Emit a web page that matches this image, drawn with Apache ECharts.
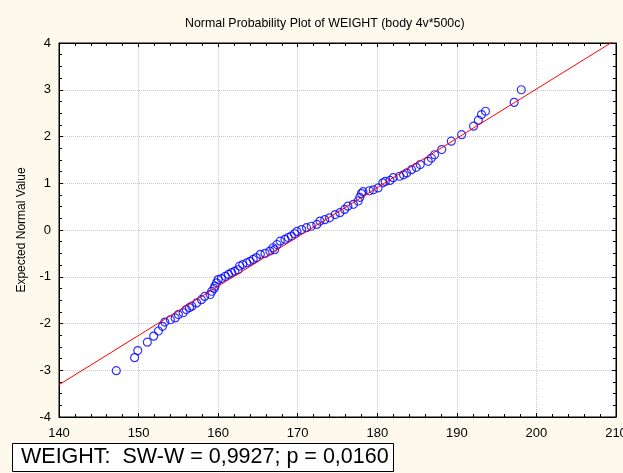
<!DOCTYPE html>
<html>
<head>
<meta charset="utf-8">
<script src="https://cdn.jsdelivr.net/npm/echarts@6/dist/echarts.min.js"></script>
<style>
  html, body { margin: 0; padding: 0; background: #fdf9ec; }
  #chart { width: 623px; height: 473px; }
</style>
</head>
<body>
<div id="chart"></div>
<script>
// Observed weights (sorted) and their expected normal values
const weights = [
  147.2, 149.5, 149.9, 151.1, 151.9, 152.5, 153.0, 153.3, 154.0, 154.6,
  155.0, 155.6, 156.0, 156.4, 156.7, 157.3, 157.9, 158.3, 159.0, 159.2,
  159.5, 159.6, 159.8, 160.0, 160.4, 160.9, 161.3, 161.7, 162.1, 162.5,
  162.7, 163.1, 163.6, 164.0, 164.4, 164.8, 165.3, 165.9, 166.5, 166.9,
  167.1, 167.4, 167.8, 168.4, 168.8, 169.2, 169.6, 169.9, 170.5, 171.1,
  171.7, 172.4, 172.8, 173.4, 174.0, 174.7, 175.3, 175.9, 176.3, 177.0,
  177.6, 177.8, 178.0, 178.2, 179.0, 179.5, 180.1, 180.7, 181.0, 181.6,
  182.0, 182.8, 183.3, 183.7, 184.3, 184.9, 185.4, 186.4, 186.8, 187.2,
  188.1, 189.3, 190.6, 192.1, 192.7, 193.1, 193.6, 197.2, 198.1
];
const expectedNormal = [
  -3.01, -2.73, -2.58, -2.40, -2.27, -2.16, -2.06, -1.97, -1.92, -1.88,
  -1.81, -1.77, -1.70, -1.66, -1.63, -1.56, -1.49, -1.42, -1.38, -1.31,
  -1.25, -1.20, -1.13, -1.06, -1.04, -0.99, -0.95, -0.91, -0.88, -0.85,
  -0.77, -0.74, -0.70, -0.67, -0.63, -0.59, -0.52, -0.50, -0.45, -0.38,
  -0.42, -0.31, -0.24, -0.20, -0.16, -0.13, -0.08, -0.03, 0.01, 0.05,
  0.08, 0.12, 0.19, 0.22, 0.26, 0.33, 0.37, 0.44, 0.51, 0.55,
  0.62, 0.70, 0.78, 0.82, 0.84, 0.86, 0.90, 1.01, 1.04, 1.06,
  1.12, 1.15, 1.18, 1.22, 1.29, 1.34, 1.40, 1.47, 1.54, 1.61,
  1.72, 1.90, 2.04, 2.22, 2.35, 2.47, 2.54, 2.73, 3.00
];

// Reference normal line (end points)
const fitX = [140, 210];
const fitY = [-3.31, 4.07];

// Axis ranges
const xMin = 140, xMax = 210, xStep = 10;
const yMin = -4, yMax = 4, yStep = 1;

const statText = 'WEIGHT:  SW-W = 0,9927; p = 0,0160';
const titleText = 'Normal Probability Plot of WEIGHT (body 4v*500c)';
const yName = 'Expected Normal Value';

const font = 'Liberation Sans, Arial, sans-serif';

const scatterData = weights.map((w, i) => [w, expectedNormal[i]]);
const lineData = fitX.map((x, i) => [x, fitY[i]]);

function valueAxis(extra) {
  return Object.assign({
    type: 'value',
    axisLine: { show: true, onZero: false, lineStyle: { color: '#000', width: 1 } },
    axisTick: { show: true, inside: true, length: 4, lineStyle: { color: '#000' } },
    minorTick: { show: true, length: 3, lineStyle: { color: '#000' } },
    splitLine: { show: false },
    axisLabel: { show: false }
  }, extra);
}

const chart = echarts.init(document.getElementById('chart'), null, { renderer: 'canvas' });
chart.setOption({
  backgroundColor: '#fdf9ec',
  animation: false,
  title: [
    {
      text: titleText,
      left: 180, top: 13,
      textStyle: { fontFamily: font, fontSize: 12.4, fontWeight: 'normal', color: '#000' }
    },
    {
      text: statText,
      left: 12, top: 443,
      padding: [3, 5, 3, 9],
      backgroundColor: '#fff',
      borderColor: '#000',
      borderWidth: 1,
      textStyle: { fontFamily: font, fontSize: 21.5, fontWeight: 'normal', color: '#000', lineHeight: 23 }
    }
  ],
  grid: {
    left: 59, right: 7, top: 43, bottom: 56,
    containLabel: false,
    outerBoundsMode: 'none',
    show: true, backgroundColor: '#fff', borderColor: '#000', borderWidth: 1
  },
  xAxis: [
    valueAxis({
      position: 'bottom', min: xMin, max: xMax, interval: xStep,
      minorTick: { show: true, splitNumber: 5, length: 3, lineStyle: { color: '#000' } },
      splitLine: { show: true, lineStyle: { color: '#c8c8c8', type: 'dotted', width: 1 } },
      axisLabel: { show: true, margin: 10, fontFamily: font, fontSize: 13, color: '#000' }
    }),
    valueAxis({
      position: 'top', min: xMin, max: xMax, interval: xStep,
      minorTick: { show: true, splitNumber: 5, length: 3, lineStyle: { color: '#000' } }
    })
  ],
  yAxis: [
    valueAxis({
      position: 'left', min: yMin, max: yMax, interval: yStep,
      minorTick: { show: true, splitNumber: 4, length: 3, lineStyle: { color: '#000' } },
      splitLine: { show: true, lineStyle: { color: '#c8c8c8', type: 'dotted', width: 1 } },
      axisLabel: { show: true, margin: 8, fontFamily: font, fontSize: 13, color: '#000' },
      name: yName, nameLocation: 'middle', nameGap: 31, nameRotate: 90,
      nameTextStyle: { fontFamily: font, fontSize: 12, color: '#000' }
    }),
    valueAxis({
      position: 'right', min: yMin, max: yMax, interval: yStep,
      minorTick: { show: true, splitNumber: 4, length: 3, lineStyle: { color: '#000' } }
    })
  ],
  series: [
    {
      type: 'scatter',
      xAxisIndex: 0, yAxisIndex: 0,
      data: scatterData,
      symbol: 'circle',
      symbolSize: 8,
      itemStyle: { color: 'rgba(255,255,255,0)', borderColor: '#0000ff', borderWidth: 1.2 },
      z: 2
    },
    {
      type: 'line',
      xAxisIndex: 0, yAxisIndex: 0,
      data: lineData,
      showSymbol: false,
      clip: true,
      lineStyle: { color: '#ff0000', width: 1 },
      z: 3
    }
  ]
});
</script>
</body>
</html>
